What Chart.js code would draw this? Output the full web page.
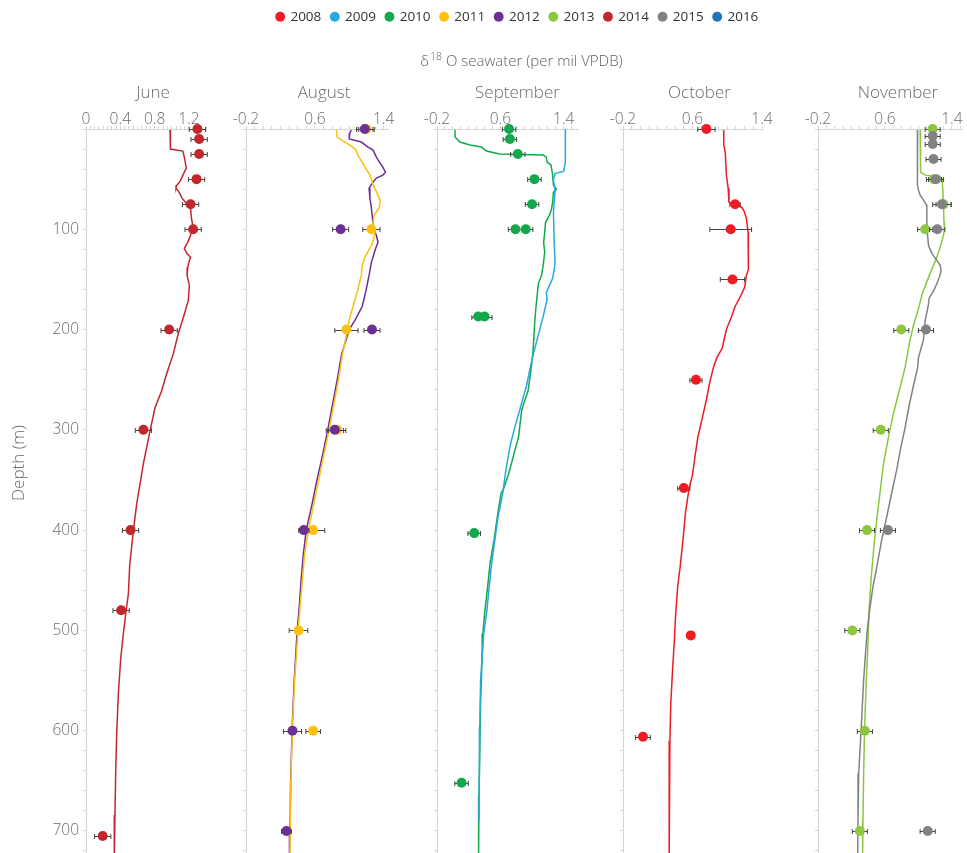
<!DOCTYPE html>
<html>
<head>
<meta charset="utf-8">
<title>δ18O seawater profiles</title>
<script src="https://cdn.jsdelivr.net/npm/chart.js@4/dist/chart.umd.min.js"></script>
<style>
  html, body { margin: 0; padding: 0; background: #ffffff; }
  #wrap { position: relative; width: 967px; height: 853px; overflow: hidden; }
  #wrap canvas { position: absolute; }
</style>
</head>
<body>
<div id="wrap">
  <canvas id="head" width="967" height="72" style="left:0;top:0"></canvas>
  <canvas id="jun" width="226" height="783" style="left:0;top:70px"></canvas>
  <canvas id="aug" width="182" height="783" style="left:226px;top:70px"></canvas>
  <canvas id="sep" width="181" height="783" style="left:417px;top:70px"></canvas>
  <canvas id="oct" width="179" height="783" style="left:603px;top:70px"></canvas>
  <canvas id="nov" width="169" height="783" style="left:798px;top:70px"></canvas>
</div>
<script>
// ---- series legend ----
const years = ['2008', '2009', '2010', '2011', '2012', '2013', '2014', '2015', '2016'];
const yearColors = ['#ed1c24', '#27aae1', '#13a84b', '#fdc010', '#6c2f93', '#8dc63f', '#c1272d', '#808285', '#1c75bc'];

// ---- axis labels ----
const panelTitles = ['June', 'August', 'September', 'October', 'November'];
const juneTickLabels = [0, 0.4, 0.8, 1.2];
const panelTickLabels = [-0.2, 0.6, 1.4];
const depthLabels = [100, 200, 300, 400, 500, 600, 700];
const depthMax = 722;

// ---- June: 2014 ----
const junProfileDepth2014 = [1, 19, 20, 22, 29, 34, 39, 46, 52, 56, 59, 62, 69, 74, 79, 89, 96, 103, 113, 119, 124, 128, 131, 138, 146, 156, 171, 188, 204, 224, 244, 261, 278, 301, 334, 374, 401, 435, 464, 481, 504, 528, 564, 604, 644, 684, 726];
const junProfile2014 = [0.98, 0.98, 0.99, 1.13, 1.15, 1.16, 1.17, 1.13, 1.10, 1.06, 1.05, 1.08, 1.12, 1.17, 1.22, 1.23, 1.245, 1.233, 1.187, 1.147, 1.175, 1.22, 1.206, 1.187, 1.18, 1.206, 1.194, 1.136, 1.077, 1.019, 0.941, 0.883, 0.805, 0.747, 0.669, 0.591, 0.552, 0.51, 0.494, 0.467, 0.435, 0.405, 0.377, 0.358, 0.346, 0.338, 0.33];
const junSampleDepth2014 = [0, 10, 25, 50, 75, 100, 200, 300, 400, 480, 705];
const junSample2014 = [1.30, 1.32, 1.32, 1.29, 1.22, 1.25, 0.97, 0.67, 0.52, 0.41, 0.195];
const junSampleErr2014 = [0.095, 0.095, 0.095, 0.095, 0.095, 0.095, 0.095, 0.095, 0.095, 0.095, 0.095];

// ---- August: 2011, 2012 ----
const augProfileDepth2011 = [1, 8, 12, 17, 21, 26, 36, 46, 56, 71, 78, 86, 96, 103, 111, 116, 128, 136, 146, 160, 175, 190, 200, 225, 250, 275, 300, 325, 350, 375, 400, 425, 450, 475, 500, 550, 600, 650, 700, 726];
const augProfile2011 = [0.85, 0.86, 0.93, 1.025, 1.08, 1.10, 1.17, 1.24, 1.28, 1.36, 1.35, 1.29, 1.27, 1.30, 1.28, 1.257, 1.18, 1.15, 1.14, 1.10, 1.05, 1.00, 0.98, 0.92, 0.875, 0.82, 0.765, 0.705, 0.645, 0.585, 0.525, 0.48, 0.455, 0.43, 0.405, 0.365, 0.338, 0.322, 0.313, 0.31];
const augProfileDepth2012 = [1, 4, 10, 13, 18, 21, 28, 33, 38, 43, 46, 49, 53, 59, 69, 79, 89, 99, 106, 113, 119, 133, 146, 163, 177, 190, 200, 225, 250, 275, 300, 325, 350, 375, 400, 425, 450, 475, 500, 550, 600, 650, 700, 726];
const augProfile2012 = [1.025, 1.006, 1.0, 1.14, 1.218, 1.276, 1.315, 1.35, 1.39, 1.42, 1.39, 1.315, 1.276, 1.23, 1.24, 1.257, 1.27, 1.276, 1.315, 1.334, 1.307, 1.257, 1.23, 1.19, 1.15, 1.07, 1.0, 0.91, 0.86, 0.805, 0.75, 0.69, 0.625, 0.565, 0.50, 0.465, 0.44, 0.42, 0.395, 0.36, 0.335, 0.32, 0.31, 0.305];
const augSampleDepth2011 = [0, 100, 200, 300, 400, 500, 600];
const augSample2011 = [1.20, 1.257, 0.967, 0.86, 0.58, 0.41, 0.58];
const augSampleErr2011 = [0.09, 0.10, 0.135, 0.10, 0.135, 0.108, 0.085];
const augSampleDepth2012 = [0, 100, 200, 300, 400, 600, 700];
const augSample2012 = [1.18, 0.90, 1.264, 0.832, 0.472, 0.34, 0.27];
const augSampleErr2012 = [0.095, 0.093, 0.093, 0.10, 0.06, 0.105, 0.058];

// ---- September: 2009, 2010 ----
const sepProfileDepth2009 = [0, 33, 42, 44.5, 51, 61, 84, 112, 135, 149, 163, 170, 187, 205, 233, 256, 280, 298, 317, 340, 363, 387, 410, 433, 456, 480, 503, 526, 550, 596, 640, 690];
const sepProfile2009 = [1.42, 1.42, 1.40, 1.29, 1.27, 1.29, 1.27, 1.28, 1.29, 1.26, 1.18, 1.19, 1.14, 1.08, 0.99, 0.93, 0.845, 0.78, 0.72, 0.67, 0.63, 0.57, 0.53, 0.49, 0.46, 0.43, 0.39, 0.37, 0.35, 0.34, 0.335, 0.33];
const sepProfileDepth2010 = [1, 8, 13, 16, 18, 22, 25, 25.5, 26, 28, 33, 36, 46, 56, 60, 63, 73, 80, 86, 93, 103, 113, 123, 136, 146, 154, 177, 191, 219, 238, 261, 280, 307, 326, 345, 359, 363, 382, 410, 433, 456, 484, 503, 526, 573, 619, 666, 726];
const sepProfile2010 = [0.027, 0.027, 0.09, 0.216, 0.36, 0.426, 0.59, 0.845, 1.14, 1.18, 1.19, 1.24, 1.26, 1.27, 1.31, 1.27, 1.26, 1.245, 1.22, 1.17, 1.16, 1.146, 1.16, 1.14, 1.12, 1.08, 1.05, 1.035, 1.015, 0.99, 0.95, 0.87, 0.83, 0.765, 0.70, 0.64, 0.61, 0.57, 0.52, 0.47, 0.44, 0.40, 0.38, 0.37, 0.35, 0.34, 0.33, 0.325];
const sepSampleDepth2010 = [0, 10, 25, 50, 75, 100, 100, 187, 187, 403, 652];
const sepSample2010 = [0.71, 0.72, 0.82, 1.03, 1.0, 0.79, 0.92, 0.32, 0.40, 0.27, 0.11];
const sepSampleErr2010 = [0.085, 0.085, 0.09, 0.085, 0.085, 0.09, 0.09, 0.08, 0.095, 0.08, 0.085];

// ---- October: 2008 ----
const octProfileDepth2008 = [1, 16, 23, 46, 59, 73, 74, 76, 78, 81, 89, 103, 119, 133, 140, 146, 158, 168, 177, 187, 200, 219, 228, 238, 252, 270, 289, 308, 326, 345, 359, 382, 410, 438, 456, 484, 512, 540, 573, 610, 657, 726];
const octProfile2008 = [0.96, 0.96, 0.977, 0.99, 1.01, 1.02, 1.05, 1.11, 1.166, 1.19, 1.22, 1.24, 1.25, 1.24, 1.24, 1.22, 1.20, 1.146, 1.09, 1.05, 0.99, 0.94, 0.88, 0.84, 0.80, 0.76, 0.71, 0.66, 0.63, 0.60, 0.56, 0.52, 0.49, 0.456, 0.43, 0.406, 0.39, 0.37, 0.35, 0.34, 0.333, 0.33];
const octSampleDepth2008 = [0, 75, 100, 150, 250, 358, 505, 606];
const octSample2008 = [0.76, 1.09, 1.04, 1.06, 0.64, 0.50, 0.58, 0.03];
const octSampleErr2008 = [0.10, 0.06, 0.24, 0.14, 0.07, 0.07, null, 0.085];

// ---- November: 2013, 2015 ----
const novProfileDepth2013 = [1, 21, 43, 46, 47, 49, 59, 79, 93, 101, 109, 123, 136, 146, 163, 182, 196, 214, 238, 261, 284, 308, 335, 363, 391, 419, 447, 480, 517, 550, 596, 643, 689, 726];
const novProfile2013 = [1.02, 1.02, 1.03, 1.08, 1.18, 1.28, 1.29, 1.30, 1.305, 1.31, 1.29, 1.24, 1.18, 1.13, 1.05, 0.99, 0.94, 0.89, 0.84, 0.77, 0.70, 0.64, 0.58, 0.54, 0.50, 0.465, 0.436, 0.41, 0.395, 0.377, 0.357, 0.345, 0.337, 0.333];
const novProfileDepth2015 = [1, 46, 56, 61, 66, 71, 76, 93, 103, 116, 124, 131, 136, 141, 146, 152, 158, 163, 168, 177, 191, 210, 228, 238, 256, 275, 298, 317, 340, 363, 387, 410, 438, 456, 484, 503, 526, 550, 596, 643, 689, 726];
const novProfile2015 = [0.99, 0.99, 0.985, 1.0, 1.02, 1.06, 1.10, 1.10, 1.105, 1.12, 1.16, 1.22, 1.26, 1.27, 1.257, 1.23, 1.20, 1.17, 1.13, 1.115, 1.08, 1.06, 1.0, 0.99, 0.94, 0.89, 0.84, 0.79, 0.74, 0.68, 0.62, 0.56, 0.50, 0.457, 0.41, 0.385, 0.365, 0.345, 0.317, 0.286, 0.278, 0.274];
const novSampleDepth2013 = [0, 50, 75, 100, 200, 300, 400, 500, 600, 700];
const novSample2013 = [1.17, 1.185, 1.30, 1.08, 0.795, 0.55, 0.385, 0.21, 0.36, 0.30];
const novSampleErr2013 = [0.09, 0.09, 0.09, 0.09, 0.09, 0.09, 0.09, 0.09, 0.09, 0.09];
const novSampleDepth2015 = [7, 15, 30, 50, 75, 100, 200, 400, 700];
const novSample2015 = [1.17, 1.17, 1.18, 1.21, 1.28, 1.225, 1.09, 0.635, 1.11];
const novSampleErr2015 = [0.09, 0.09, 0.09, 0.09, 0.11, 0.09, 0.09, 0.09, 0.09];

// ---- shared look ----
const FONT = "'Open Sans', 'DejaVu Sans', sans-serif";
const AXIS_GREY = '#d4d4d4';
Chart.defaults.font.family = FONT;
Chart.defaults.font.weight = 300;
Chart.defaults.color = '#6b6b6b';
Chart.defaults.animation = false;

const colorOf = year => yearColors[years.indexOf(year)];

// horizontal error whiskers drawn underneath each sample marker
const errorBars = {
  id: 'errorBars',
  beforeDatasetDraw(chart, args, opts) {
    const ds = chart.data.datasets[args.index];
    if (!ds.errors) return;
    const xs = chart.scales.x;
    const ctx = chart.ctx;
    ctx.save();
    ctx.strokeStyle = opts.color;
    ctx.lineWidth = opts.width;
    args.meta.data.forEach((pt, i) => {
      const e = ds.errors[i];
      if (e == null) return;
      const v = ds.data[i].x;
      const x0 = xs.getPixelForValue(v - e);
      const x1 = xs.getPixelForValue(v + e);
      const y = Math.round(pt.y) + 0.5;
      ctx.beginPath();
      ctx.moveTo(x0, y); ctx.lineTo(x1, y);
      ctx.moveTo(x0, y - opts.cap); ctx.lineTo(x0, y + opts.cap);
      ctx.moveTo(x1, y - opts.cap); ctx.lineTo(x1, y + opts.cap);
      ctx.stroke();
    });
    ctx.restore();
  }
};

// month heading above each panel, plus the depth caption on the first one
const panelText = {
  id: 'panelText',
  afterDraw(chart, args, o) {
    const ctx = chart.ctx;
    const a = chart.chartArea;
    ctx.save();
    ctx.fillStyle = o.color;
    ctx.font = `${o.weight} ${o.size}px ${FONT}`;
    ctx.textAlign = 'center';
    ctx.textBaseline = 'middle';
    ctx.fillText(o.title, (a.left + a.right) / 2 + o.dx, o.titleY);
    if (o.yTitle) {
      ctx.translate(o.yTitleX, o.yTitleY);
      ctx.rotate(-Math.PI / 2);
      ctx.fillText(o.yTitle, 0, 0);
    }
    ctx.restore();
  }
};

// axis caption with a raised isotope number
const mainTitle = {
  id: 'mainTitle',
  afterDraw(chart, args, o) {
    const ctx = chart.ctx;
    ctx.save();
    ctx.fillStyle = o.color;
    ctx.textBaseline = 'alphabetic';
    ctx.textAlign = 'left';
    const big = `${o.weight} ${o.size}px ${FONT}`;
    const small = `${o.weight} ${o.supSize}px ${FONT}`;
    ctx.font = big;
    const w1 = ctx.measureText(o.pre).width;
    const w3 = ctx.measureText(o.post).width;
    ctx.font = small;
    const w2 = ctx.measureText(o.sup).width;
    let x = o.x - (w1 + w2 + w3) / 2;
    ctx.font = big; ctx.fillText(o.pre, x, o.y); x += w1;
    ctx.font = small; ctx.fillText(o.sup, x + 1, o.y - o.supRaise); x += w2 + 1;
    ctx.font = big; ctx.fillText(o.post, x, o.y);
    ctx.restore();
  }
};

function profileSet(depths, values, year) {
  const c = colorOf(year);
  return {
    label: year,
    data: depths.map((d, i) => ({ x: values[i], y: d })),
    showLine: true,
    borderColor: c,
    backgroundColor: c,
    borderWidth: 1.5,
    pointRadius: 0,
    pointHoverRadius: 0,
    order: 10
  };
}

function sampleSet(depths, values, errs, year, order) {
  const c = colorOf(year);
  return {
    label: year,
    data: depths.map((d, i) => ({ x: values[i], y: d })),
    errors: errs,
    showLine: false,
    pointRadius: 5,
    pointHoverRadius: 5,
    pointBorderWidth: 0,
    pointBackgroundColor: c,
    backgroundColor: c,
    borderColor: c,
    clip: false,
    order: order
  };
}

const fmt = v => String(Math.round(v * 10) / 10);

function panel(id, p) {
  const xTicks = [];
  for (let k = 0; ; k++) {
    const v = Math.round((p.min + k * p.minorStep) * 1000) / 1000;
    if (v > p.max + 1e-9) break;
    xTicks.push(v);
  }
  const yTicks = [];
  for (let d = 0; d <= depthMax; d += 20) yTicks.push(d);

  new Chart(document.getElementById(id), {
    type: 'scatter',
    data: { datasets: p.datasets },
    options: {
      responsive: false,
      maintainAspectRatio: false,
      animation: false,
      events: [],
      layout: { autoPadding: false, padding: { left: 0, right: p.padRight, top: 0, bottom: 0 } },
      scales: {
        x: {
          type: 'linear',
          position: 'top',
          min: p.min,
          max: p.max,
          afterBuildTicks: ax => { ax.ticks = xTicks.map(v => ({ value: v })); },
          afterFit: s => { s.height = 59; s.paddingLeft = 0; s.paddingRight = 0; },
          border: { color: AXIS_GREY, width: 1 },
          grid: { drawOnChartArea: false, drawTicks: true, tickLength: 3, color: AXIS_GREY },
          ticks: {
            autoSkip: false,
            maxRotation: 0,
            padding: -1,
            color: '#6b6b6b',
            font: { size: 15.5, lineHeight: 1 },
            callback: v => p.labels.some(m => Math.abs(m - v) < 1e-6) ? fmt(v) : ''
          }
        },
        y: {
          type: 'linear',
          position: 'left',
          reverse: true,
          min: 0,
          max: depthMax,
          afterBuildTicks: ax => { ax.ticks = yTicks.map(v => ({ value: v })); },
          afterFit: s => { s.width = p.yWidth; s.paddingTop = 0; s.paddingBottom = 0; },
          border: { color: AXIS_GREY, width: 1 },
          grid: { drawOnChartArea: false, drawTicks: true, tickLength: 3, color: AXIS_GREY },
          ticks: {
            autoSkip: false,
            padding: 4,
            color: '#6b6b6b',
            font: { size: 15.5 },
            callback: v => (p.depthLabels && depthLabels.includes(v)) ? String(v) : ''
          }
        }
      },
      plugins: {
        legend: { display: false },
        tooltip: { enabled: false },
        errorBars: { color: '#444444', width: 1, cap: 2.5 },
        panelText: {
          title: p.title, dx: p.titleDx, titleY: 23.5, size: 17, weight: 300, color: '#6b6b6b',
          yTitle: p.yTitle, yTitleX: 19, yTitleY: 393
        }
      }
    },
    plugins: [errorBars, panelText]
  });
}

// ---- header: legend and quantity caption ----
new Chart(document.getElementById('head'), {
  type: 'scatter',
  data: {
    datasets: years.map((y, i) => ({ label: y, data: [], backgroundColor: yearColors[i], borderColor: yearColors[i] }))
  },
  options: {
    responsive: false,
    animation: false,
    events: [],
    layout: { autoPadding: false, padding: { left: 68, right: 0, top: 0, bottom: 0 } },
    scales: { x: { display: false }, y: { display: false } },
    plugins: {
      tooltip: { enabled: false },
      legend: {
        display: true,
        position: 'top',
        align: 'center',
        labels: {
          usePointStyle: true,
          boxWidth: 7,
          boxHeight: 7,
          padding: 10,
          color: '#333333',
          font: { size: 13.5, weight: 400 },
          generateLabels: () => years.map((y, i) => ({
            text: y,
            fillStyle: yearColors[i],
            strokeStyle: yearColors[i],
            lineWidth: 0,
            pointStyle: 'circle',
            hidden: false,
            fontColor: '#333333',
            datasetIndex: i
          }))
        }
      },
      mainTitle: {
        pre: 'δ', sup: '18', post: ' O seawater (per mil VPDB)',
        x: 521, y: 66, size: 15, supSize: 10.5, supRaise: 6, weight: 300, color: '#5e5e5e'
      }
    }
  },
  plugins: [mainTitle]
});

// ---- the five monthly panels ----
panel('jun', {
  title: panelTitles[0], titleDx: 7, yTitle: 'Depth (m)',
  min: 0, max: 1.4, minorStep: 0.05, labels: juneTickLabels,
  yWidth: 86, padRight: 20, depthLabels: true,
  datasets: [
    profileSet(junProfileDepth2014, junProfile2014, '2014'),
    sampleSet(junSampleDepth2014, junSample2014, junSampleErr2014, '2014', 1)
  ]
});

panel('aug', {
  title: panelTitles[1], titleDx: 7,
  min: -0.2, max: 1.45, minorStep: 0.1, labels: panelTickLabels,
  yWidth: 20, padRight: 20, depthLabels: false,
  datasets: [
    profileSet(augProfileDepth2011, augProfile2011, '2011'),
    profileSet(augProfileDepth2012, augProfile2012, '2012'),
    sampleSet(augSampleDepth2011, augSample2011, augSampleErr2011, '2011', 2),
    sampleSet(augSampleDepth2012, augSample2012, augSampleErr2012, '2012', 1)
  ]
});

panel('sep', {
  title: panelTitles[2], titleDx: 10,
  min: -0.2, max: 1.58, minorStep: 0.1, labels: panelTickLabels,
  yWidth: 20, padRight: 20, depthLabels: false,
  datasets: [
    profileSet(sepProfileDepth2009, sepProfile2009, '2009'),
    profileSet(sepProfileDepth2010, sepProfile2010, '2010'),
    sampleSet(sepSampleDepth2010, sepSample2010, sepSampleErr2010, '2010', 1)
  ]
});

panel('oct', {
  title: panelTitles[3], titleDx: 7,
  min: -0.2, max: 1.4, minorStep: 0.1, labels: panelTickLabels,
  yWidth: 20, padRight: 20, depthLabels: false,
  datasets: [
    profileSet(octProfileDepth2008, octProfile2008, '2008'),
    sampleSet(octSampleDepth2008, octSample2008, octSampleErr2008, '2008', 1)
  ]
});

panel('nov', {
  title: panelTitles[4], titleDx: 8,
  min: -0.2, max: 1.52, minorStep: 0.1, labels: panelTickLabels,
  yWidth: 20, padRight: 5, depthLabels: false,
  datasets: [
    profileSet(novProfileDepth2015, novProfile2015, '2015'),
    profileSet(novProfileDepth2013, novProfile2013, '2013'),
    sampleSet(novSampleDepth2013, novSample2013, novSampleErr2013, '2013', 2),
    sampleSet(novSampleDepth2015, novSample2015, novSampleErr2015, '2015', 1)
  ]
});
</script>
</body>
</html>
